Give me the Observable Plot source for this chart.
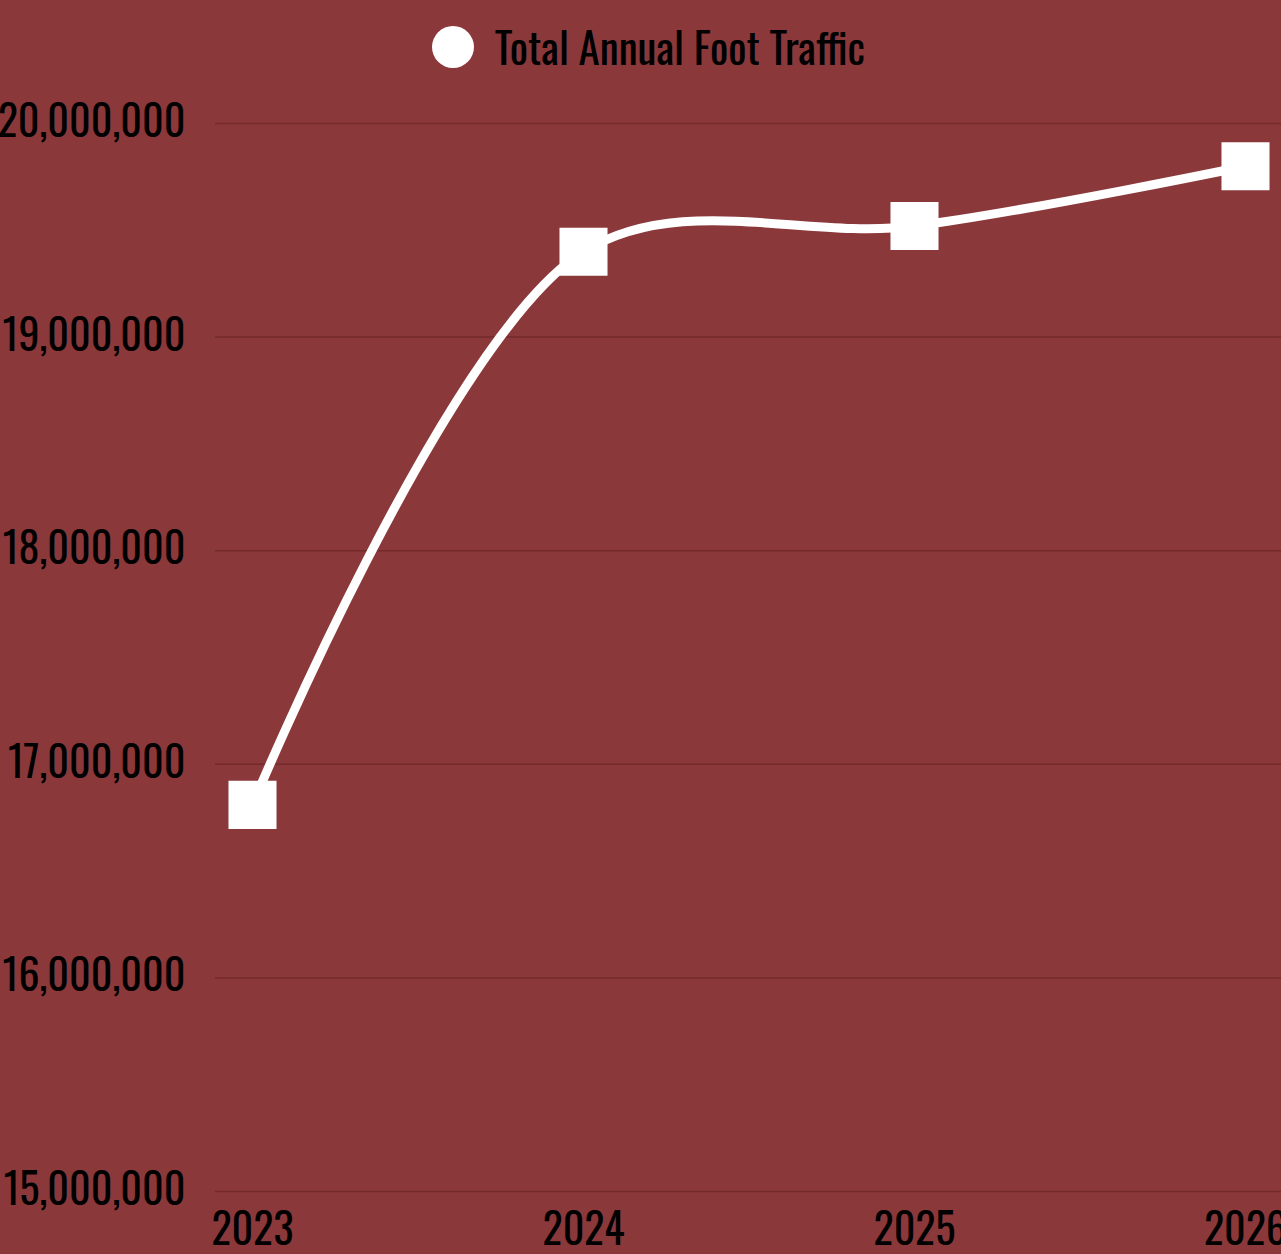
<!DOCTYPE html>
<html>
<head>
<meta charset="utf-8">
<script src="https://cdn.jsdelivr.net/npm/d3@7"></script>
<script src="https://cdn.jsdelivr.net/npm/@observablehq/plot@0.6"></script>
<style>
  html, body { margin: 0; padding: 0; background: #8B383A; overflow: hidden; }
  #legend { height: 96px; display: flex; align-items: center; justify-content: center; gap: 21px;
    font-family: Oswald, "Liberation Sans Narrow", "DejaVu Sans Condensed", sans-serif; font-size: 43px; color: #000; padding-left: 16px; padding-bottom: 6px; box-sizing: border-box; }
  #legend .sw { width: 42px; height: 42px; border-radius: 50%; background: #fff; margin-top: 4px; }
  #chart svg { display: block; }
</style>
</head>
<body>
<div id="legend"><div class="sw"></div><span id="ltext">Total Annual Foot Traffic</span></div>
<div id="chart"></div>
<script>
const seriesName = "Total Annual Foot Traffic";
const years = ["2023", "2024", "2025", "2026"];
const footTraffic = [16810000, 19400000, 19520000, 19800000];
const yTicks = [15000000, 16000000, 17000000, 18000000, 19000000, 20000000];

const data = years.map((y, i) => ({year: y, value: footTraffic[i]}));

const chart = Plot.plot({
  width: 1281,
  height: 1158,
  marginTop: 27,
  marginBottom: 63,
  marginLeft: 215,
  marginRight: 0,
  style: {background: "transparent", color: "#000", fontFamily: 'Oswald, "Liberation Sans Narrow", "DejaVu Sans Condensed", sans-serif', fontSize: "42px"},
  x: {type: "point", domain: years, padding: 0.11, label: null},
  y: {domain: [15000000, 20000000], label: null},
  marks: [
    Plot.ruleY(yTicks, {stroke: "#742A2B", strokeWidth: 1.5}),
    Plot.axisY({ticks: yTicks, tickFormat: d3.format(","), tickSize: 0, tickPadding: 30, fontSize: 42, fill: "#000", label: null}),
    Plot.axisX({tickSize: 0, tickPadding: 24, fontSize: 42, fill: "#000", label: null}),
    Plot.line(data, {x: "year", y: "value", stroke: "#fff", strokeWidth: 9, curve: "catmull-rom"}),
    Plot.dot(data, {x: "year", y: "value", symbol: "square", r: 27.1, fill: "#fff", stroke: null})
  ]
});
document.getElementById("chart").appendChild(chart);
</script>
</body>
</html>
